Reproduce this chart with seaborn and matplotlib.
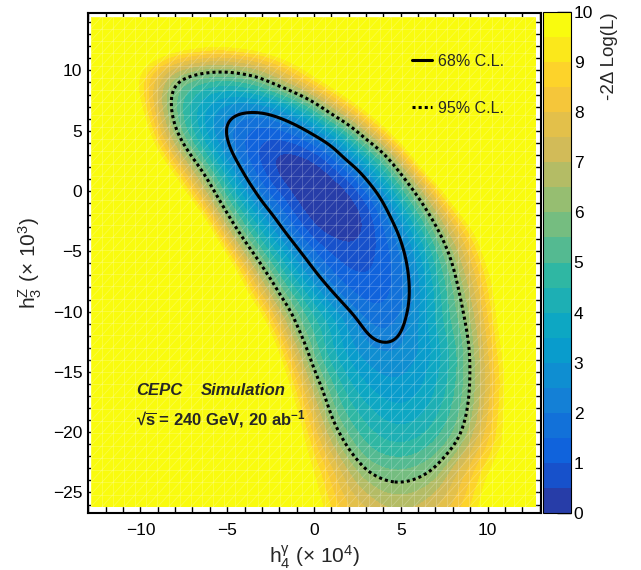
import numpy as np
import matplotlib
matplotlib.use("Agg")
import matplotlib.pyplot as plt
import matplotlib.tri as mtri
from matplotlib.colors import ListedColormap, BoundaryNorm
from matplotlib.cm import ScalarMappable
from matplotlib.collections import LineCollection
from matplotlib.lines import Line2D
from matplotlib.patches import Rectangle
from matplotlib.ticker import MultipleLocator
import seaborn as sns

# scan points: h4 (x 1e4) columns, h3 (x 1e3) rows
h4_points = np.arange(-13, 14)
h3_points = np.array([15, 13, 11, 9, 7, 5, 3, 1, -1, -3, -5, -7, -9, -11,
                      -13, -15, -17, -19, -21, -23, -25, -27])

# -2 Delta log(L), one row per h3 value (x = -13 ... 13)
nll_rows = [
    [14] * 27,
    [14, 14, 14, 13.5, 12.6, 11.9, 11.5, 11.2, 11.2, 11.5, 11.9, 12.6, 13.5] + [14] * 14,
    [14, 12.8, 11.4, 10.2, 9.3, 8.5, 8.1, 7.8, 7.8, 8.1, 8.5, 9.2, 10.1, 11.2, 12.5, 13.8] + [14] * 11,
    [14, 12.5, 10.8, 9.2, 7.5, 5.9, 5.1, 4.7, 4.6, 4.9, 5.5, 6.6, 7.7, 8.9, 10.1, 11.3, 12.4, 13.6] + [14] * 9,
    [14, 14, 11.8, 9.6, 7.4, 5.5, 4.2, 3.3, 2.8, 2.55, 2.6, 3.1, 4.0, 5.3, 7.0, 8.6, 10.1, 11.7, 13.3] + [14] * 8,
    [14, 14, 13, 10.7, 8.3, 6.0, 4.4, 3.1, 2.1, 1.5, 1.25, 1.35, 1.8, 2.6, 3.7, 5.1, 7.0, 8.9, 10.9, 12.8] + [14] * 7,
    [14, 14, 13.8, 11.8, 9.7, 7.6, 5.7, 4.2, 2.6, 1.5, 0.75, 0.35, 0.35, 0.7, 1.5, 2.9, 4.2, 5.6, 7.9, 10.6, 13.3] + [14] * 6,
    [14, 14, 14, 13.8, 11.8, 9.7, 7.6, 5.7, 4.0, 2.4, 1.3, 0.45, 0.05, 0.0, 0.3, 0.9, 2.3, 3.8, 5.4, 7.4, 9.7, 12.1] + [14] * 5,
    [14, 14, 14, 14, 14, 11.8, 9.5, 7.2, 5.3, 3.8, 2.3, 1.4, 0.5, 0.1, 0.0, 0.25, 0.8, 2.2, 3.9, 5.5, 7.4, 9.5, 11.6, 13.6] + [14] * 3,
    [14] * 6 + [12.2, 9.5, 6.8, 5.1, 3.8, 2.4, 1.3, 0.5, 0.2, 0.2, 0.5, 1.4, 2.6, 4.2, 5.8, 7.6, 9.3, 11.1, 12.9, 14, 14],
    [14] * 7 + [11.6, 9.1, 6.6, 5.0, 3.8, 2.5, 1.5, 0.9, 0.65, 0.75, 1.2, 2.0, 3.3, 4.8, 6.4, 8.2, 10.1, 11.9, 13.7, 14],
    [14] * 7 + [13.5, 11.1, 8.8, 6.5, 5.0, 3.7, 2.5, 1.6, 1.1, 1.0, 1.2, 1.8, 2.9, 4.3, 5.7, 7.4, 9.2, 10.9, 12.7, 14],
    [14] * 8 + [12.4, 10.3, 8.3, 6.2, 5.0, 3.8, 2.7, 1.8, 1.4, 1.4, 1.8, 2.8, 4.0, 5.3, 6.8, 8.7, 10.7, 12.6, 14],
    [14] * 9 + [12.3, 10.1, 7.8, 5.8, 4.8, 3.9, 2.9, 2.1, 1.85, 2.1, 3.0, 4.0, 5.1, 6.3, 8.3, 10.3, 12.3, 14],
    [14] * 9 + [13.6, 11.4, 9.2, 7.0, 5.2, 4.0, 3.2, 2.6, 2.4, 2.5, 2.9, 3.6, 4.7, 6.0, 7.9, 9.9, 11.9, 13.8],
    [14] * 10 + [12.4, 10.2, 8.1, 6.0, 4.7, 3.8, 3.2, 2.9, 2.9, 3.2, 3.8, 4.7, 5.95, 7.7, 9.5, 11.3, 13.1],
    [14] * 10 + [13.2, 11.1, 9.1, 7.0, 5.4, 4.4, 3.8, 3.4, 3.3, 3.5, 4.05, 4.9, 6.0, 7.75, 9.5, 11.3, 13.0],
    [14] * 10 + [13.6, 11.7, 9.8, 7.9, 6.0, 5.0, 4.4, 4.0, 3.85, 4.0, 4.5, 5.2, 6.3, 8.0, 9.7, 11.3, 13.0],
    [14] * 11 + [12.2, 10.4, 8.7, 7.0, 5.7, 5.0, 4.6, 4.5, 4.65, 5.1, 5.75, 7.0, 8.5, 9.6, 11.0, 12.5],
    [14] * 10 + [13.1, 11.9, 10.6, 9.4, 8.1, 6.9, 5.85, 5.5, 5.4, 5.6, 6.0, 7.1, 8.2, 9.3, 10.4, 11.5, 12.6],
    [14] * 10 + [13.7, 12.4, 11.1, 9.9, 8.6, 7.6, 7.0, 6.5, 6.4, 6.55, 7.0, 7.7, 8.7, 9.9, 11.2, 12.5, 13.8],
    [14] * 10 + [13.0, 12.0, 11.0, 10.2, 9.2, 8.3, 7.8, 7.4, 7.3, 7.4, 7.8, 8.3, 9.2, 10.2, 11.2, 12.2, 13.2],
]

cl_levels = [2.3, 5.99]
cl_labels = ["68% C.L.", "95% C.L."]

# ROOT kBird palette stops
bird_stops = [(0.2082, 0.1664, 0.5293), (0.0592, 0.3599, 0.8684), (0.0780, 0.5041, 0.8385),
              (0.0232, 0.6419, 0.7914), (0.1802, 0.7178, 0.6425), (0.5301, 0.7492, 0.4662),
              (0.8186, 0.7328, 0.3499), (0.9956, 0.7862, 0.1968), (0.9764, 0.9832, 0.0539)]

sns.set_style("ticks")
plt.rcParams["font.family"] = ["Liberation Sans", "DejaVu Sans"]
plt.rcParams["mathtext.fontset"] = "custom"
plt.rcParams["mathtext.rm"] = "Liberation Sans"
plt.rcParams["mathtext.it"] = "Liberation Sans:italic"
plt.rcParams["mathtext.bf"] = "Liberation Sans:bold"
plt.rcParams["mathtext.default"] = "regular"

bird = sns.blend_palette(bird_stops, n_colors=255)
n_lev = 20
level_colors = [bird[int((i + 0.99) * 255 / n_lev)] for i in range(n_lev)]
cmap = ListedColormap(level_colors)
cmap.set_over(level_colors[-1])
cmap.set_under(level_colors[0])
levels = np.linspace(0, 10, n_lev + 1)


def gauss_smooth(field, sx, sy):
    # light separable gaussian smoothing (sx, sy in fine-grid cells)
    rx, ry = int(3 * sx), int(3 * sy)
    kx = np.exp(-0.5 * (np.arange(-rx, rx + 1) / sx) ** 2)
    ky = np.exp(-0.5 * (np.arange(-ry, ry + 1) / sy) ** 2)
    kx /= kx.sum()
    ky /= ky.sum()
    padded = np.pad(field, ((ry, ry), (rx, rx)), mode="edge")
    tmp = np.apply_along_axis(lambda r: np.convolve(r, kx, mode="valid"), 1, padded)
    return np.apply_along_axis(lambda c: np.convolve(c, ky, mode="valid"), 0, tmp)


X, Y = np.meshgrid(h4_points, h3_points)
Z = np.array(nll_rows, dtype=float)
tri = mtri.Triangulation(X.ravel(), Y.ravel())
interp = mtri.CubicTriInterpolator(tri, Z.ravel(), kind="geom")

fx = np.linspace(-13, 13, 261)
fy = np.linspace(-27, 15, 421)
FX, FY = np.meshgrid(fx, fy)
fz = np.ma.filled(interp(FX, FY), 14.0)
fz = gauss_smooth(fz, 4.5, 9.0)

fig = plt.figure(figsize=(6.41, 5.70), dpi=100)
ax = fig.add_axes([88 / 641, 57 / 570, 453 / 641, 500.5 / 570])
cax = fig.add_axes([543 / 641, 57 / 570, 28 / 641, 501 / 570])

x0, x1, y0, y1 = -12.87, 12.8, -26.2, 14.46
clip = Rectangle((x0, y0), x1 - x0, y1 - y0, transform=ax.transData)

cs = ax.contourf(fx, fy, fz, levels=levels, cmap=cmap, extend="both", zorder=1)
cs.set_clip_path(clip)

# faint cell mesh like the ROOT rendering
gx = np.linspace(x0, x1, 41)
gy = np.linspace(y0, y1, 41)
dx, dy = gx[1] - gx[0], gy[1] - gy[0]
segs = [[(x, y0), (x, y1)] for x in gx] + [[(x0, y), (x1, y)] for y in gy]
for j in range(-40, 41):
    segs.append([(x0 + j * dx, y0), (x0 + (j + 40) * dx, y1)])
mesh = LineCollection(segs, colors="white", linewidths=0.6, alpha=0.22, zorder=2)
mesh.set_clip_path(clip)
ax.add_collection(mesh)

cl = ax.contour(fx, fy, fz, levels=cl_levels, colors="k", linewidths=2.2,
                linestyles=["solid", (0, (1, 1))], zorder=3)

ax.set_xlim(-13.02, 13.08)
ax.set_ylim(-26.7, 14.8)
ax.xaxis.set_major_locator(MultipleLocator(5))
ax.xaxis.set_minor_locator(MultipleLocator(1))
ax.yaxis.set_major_locator(MultipleLocator(5))
ax.yaxis.set_minor_locator(MultipleLocator(1))
ax.tick_params(which="both", direction="in", top=True, right=True, colors="k", width=1.0)
ax.tick_params(which="major", length=10, labelsize=12.5)
ax.tick_params(which="minor", length=5)
ax.tick_params(axis="x", pad=7)
ax.tick_params(axis="y", pad=4)
for sp in ax.spines.values():
    sp.set_linewidth(1.5)
    sp.set_color("k")

ax.set_xlabel(r"h$_{4}^{\gamma}$ (× 10$^{4}$)", fontsize=15)
ax.xaxis.set_label_coords(0.5, -0.062)
ax.set_ylabel(r"h$_{3}^{Z}$ (× 10$^{3}$)", fontsize=15)
ax.yaxis.set_label_coords(-0.098, 0.5)

ax.text(0.106, 0.236, "CEPC", transform=ax.transAxes, fontsize=12,
        fontweight="bold", fontstyle="italic", va="baseline")
ax.text(0.249, 0.236, "Simulation", transform=ax.transAxes, fontsize=12,
        fontweight="bold", fontstyle="italic", va="baseline")
ax.text(0.106, 0.176, r"√$\overline{s}$ = 240 GeV, 20 ab$^{-1}$", transform=ax.transAxes,
        fontsize=12, fontweight="bold", va="baseline")

handles = [Line2D([], [], color="k", lw=2.2, ls="solid"),
           Line2D([], [], color="k", lw=2.2, ls=(0, (1, 1)))]
ax.legend(handles, cl_labels, frameon=False, loc="upper left",
          bbox_to_anchor=(412 / 641, 1 - 54 / 570), bbox_transform=fig.transFigure,
          fontsize=11.5, handlelength=1.25, handletextpad=0.36, labelspacing=2.0,
          borderpad=0, borderaxespad=0)

sm = ScalarMappable(norm=BoundaryNorm(levels, n_lev), cmap=cmap)
cb = fig.colorbar(sm, cax=cax)
cb.set_ticks(np.arange(0, 11, 1))
cb.outline.set_linewidth(0.8)
cb.outline.set_edgecolor("k")
cax.tick_params(direction="in", length=10, width=1.0, right=True, left=False,
                labelsize=12.5, pad=2, colors="k")
cax.minorticks_off()
fig.text(609 / 641, 1 - 12 / 570, "-2Δ Log(L)", rotation=90, ha="center", va="top",
         fontsize=13.5)

fig.savefig("out.png", dpi=100)
